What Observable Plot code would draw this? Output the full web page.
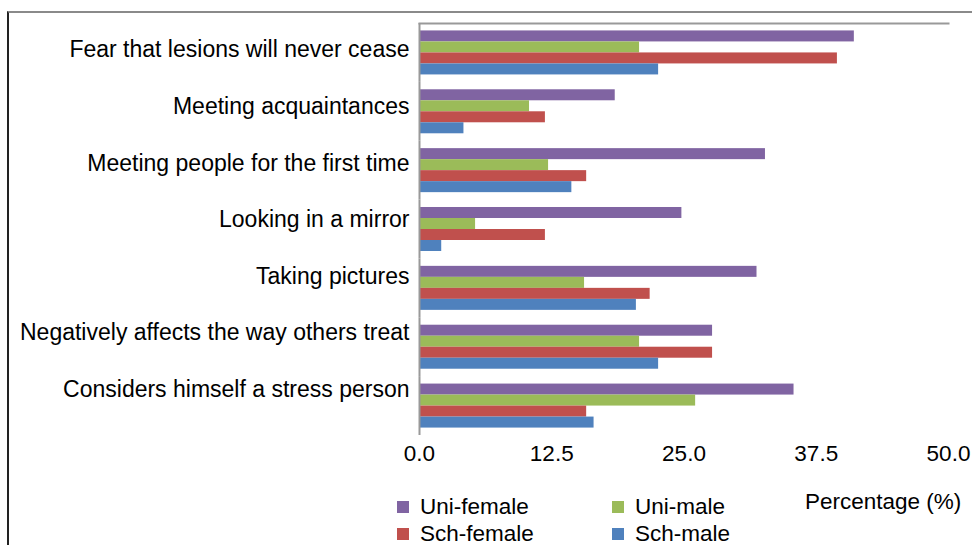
<!DOCTYPE html>
<html>
<head>
<meta charset="utf-8">
<script src="https://cdn.jsdelivr.net/npm/d3@7"></script>
<script src="https://cdn.jsdelivr.net/npm/@observablehq/plot@0.6"></script>
<style>
  body { margin: 0; background: #fff; }
  #chart { position: relative; width: 972px; height: 545px; overflow: hidden; font-family: "Liberation Sans", Arial, sans-serif; color: #000; }
  #border { position: absolute; left: 7px; top: 10.5px; width: 980px; height: 560px; border-top: 2px solid #8a8a8a; border-left: 2px solid #222; box-sizing: border-box; }
  #main, #labels { position: absolute; left: 0; top: 0; }
  #legend { position: absolute; left: 397px; top: 497.8px; display: grid; grid-template-columns: 215px 215px; row-gap: 9px; }
  .item { display: flex; align-items: center; height: 18px; font-size: 22.5px; line-height: 18px; white-space: nowrap; }
  .sw { width: 12px; height: 12px; margin-right: 11px; flex: none; }
  #xtitle { position: absolute; left: 805px; top: 486.8px; font-size: 22.5px; line-height: 29px; white-space: nowrap; }
</style>
</head>
<body>
<div id="chart">
  <div id="border"></div>
  <div id="main"></div>
  <div id="labels"></div>
  <div id="legend"></div>
  <div id="xtitle"></div>
</div>
<script>
const categories = [
  "Fear that lesions will never cease",
  "Meeting acquaintances",
  "Meeting people for the first time",
  "Looking in a mirror",
  "Taking pictures",
  "Negatively affects the way others treat",
  "Considers himself a stress person"
];
const seriesNames = ["Uni-female", "Uni-male", "Sch-female", "Sch-male"];
const uniFemale = [41.1, 18.5, 32.7, 24.8, 31.9, 27.7, 35.4];
const uniMale   = [20.8, 10.4, 12.2, 5.3, 15.6, 20.8, 26.1];
const schFemale = [39.5, 11.9, 15.8, 11.9, 21.8, 27.7, 15.8];
const schMale   = [22.6, 4.2, 14.4, 2.1, 20.5, 22.6, 16.5];
const seriesColors = ["#8064A2", "#9BBB59", "#C0504D", "#4F81BD"];
const xTicks = [0, 12.5, 25, 37.5, 50];
const xTitle = "Percentage (%)";

const seriesValues = [uniFemale, uniMale, schFemale, schMale];
const data = [];
categories.forEach((c, i) => {
  seriesNames.forEach((s, j) => data.push({category: c, series: s, value: seriesValues[j][i]}));
});

const main = Plot.plot({
  width: 972,
  height: 470,
  marginTop: 23,
  marginBottom: 35,
  marginLeft: 419,
  marginRight: 24,
  style: {fontFamily: "'Liberation Sans', Arial, sans-serif", fontSize: "22.5px", color: "#000", background: "transparent", overflow: "visible"},
  x: {domain: [0, 50], ticks: xTicks, tickFormat: d => d.toFixed(1), tickSize: 0, tickPadding: 10, label: null},
  y: {domain: seriesNames, axis: null, paddingInner: 0, paddingOuter: 0.675, round: false},
  fy: {domain: categories, axis: null, padding: 0, paddingInner: 0, paddingOuter: 0, round: false, label: null},
  color: {domain: seriesNames, range: seriesColors},
  marks: [
    Plot.barX(data, {x: "value", y: "series", fy: "category", fill: "series"}),
    Plot.frame({anchor: "top", stroke: "#999", strokeWidth: 2, fy: [categories[0]]}),
    Plot.ruleX([0], {stroke: "#999", strokeWidth: 2})
  ]
});
document.getElementById("main").appendChild(main);

const labels = Plot.plot({
  width: 420,
  height: 470,
  marginTop: 49.6,
  marginBottom: 80.8,
  marginLeft: 419,
  marginRight: 1,
  style: {fontFamily: "'Liberation Sans', Arial, sans-serif", fontSize: "23px", color: "#000", background: "transparent", overflow: "visible"},
  y: {type: "point", domain: categories, padding: 0, round: false, label: null},
  marks: [Plot.axisY({anchor: "left", tickSize: 0, tickPadding: 10, label: null, fontSize: 23})]
});
document.getElementById("labels").appendChild(labels);

const legend = document.getElementById("legend");
seriesNames.forEach((s, j) => {
  const it = document.createElement("div");
  it.className = "item";
  const sw = document.createElement("span");
  sw.className = "sw";
  sw.style.background = seriesColors[j];
  const tx = document.createElement("span");
  tx.textContent = s;
  it.appendChild(sw);
  it.appendChild(tx);
  legend.appendChild(it);
});
document.getElementById("xtitle").textContent = xTitle;
</script>
</body>
</html>
